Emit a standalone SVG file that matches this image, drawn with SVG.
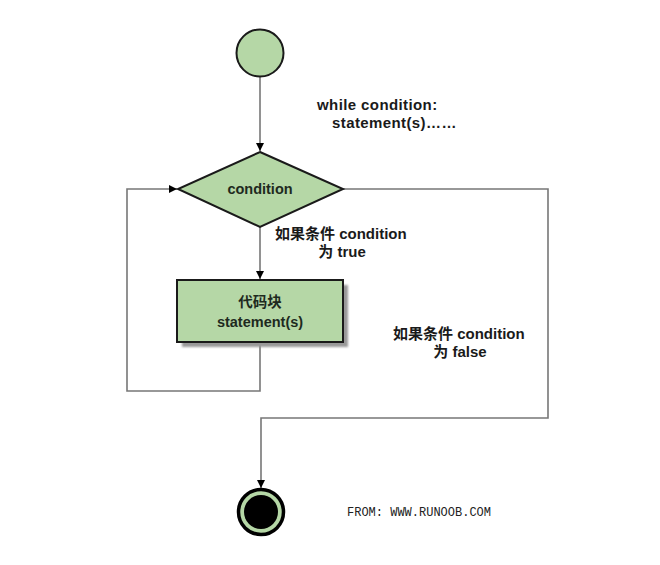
<svg xmlns="http://www.w3.org/2000/svg" width="660" height="565" viewBox="0 0 660 565">
<defs>
<marker id="arr" viewBox="0 0 10 10" refX="10" refY="5" markerWidth="8" markerHeight="8" markerUnits="userSpaceOnUse" orient="auto">
<path d="M0,0 L10,5 L0,10 z" fill="#000"/>
</marker>
<filter id="sh" x="-10%" y="-10%" width="130%" height="140%">
<feGaussianBlur stdDeviation="1.2"/>
</filter>
<style>
.edge{fill:none;stroke:#777;stroke-width:1.6}
.shape{fill:#b5d7a6;stroke:#1a1a1a;stroke-width:2}
.t{font-family:"Liberation Sans","Noto Sans CJK SC",sans-serif;font-weight:bold;font-size:15px;fill:#1a1a1a}
.c{text-anchor:middle}
.w{letter-spacing:0.4px}
.n{font-family:"Liberation Sans","Noto Sans CJK SC",sans-serif;font-weight:bold;font-size:14.5px;fill:#1e2a1e;text-anchor:middle}
.m{font-family:"Liberation Mono",monospace;font-size:12px;fill:#222}
</style>
</defs>
<rect width="660" height="565" fill="#fff"/>
<g id="connectors">
<path class="edge" d="M260,77 L260,151" marker-end="url(#arr)"/>
<path class="edge" d="M260,227 L260,279" marker-end="url(#arr)"/>
<path class="edge" d="M260,343 L260,391 L127,391 L127,189 L177,189" marker-end="url(#arr)"/>
<path class="edge" d="M343,189 L548,189 L548,418 L261,418 L261,488" marker-end="url(#arr)"/>
</g>
<g id="start">
<circle cx="260" cy="53" r="23.5" class="shape"/>
</g>
<g id="condition">
<polygon points="260,152 343,189 260,227 178,189" class="shape"/>
<text x="260" y="194" class="n">condition</text>
</g>
<g id="block">
<rect x="182" y="285" width="166" height="62" fill="#999" filter="url(#sh)"/>
<rect x="177" y="280" width="166" height="62" class="shape"/>
<text x="260" y="307" class="n">代码块</text>
<text x="260" y="327" class="n">statement(s)</text>
</g>
<g id="end">
<circle cx="261" cy="512" r="22.5" fill="#b5d7a6" stroke="#000" stroke-width="3.5"/>
<circle cx="261" cy="512" r="17" fill="#000"/>
</g>
<g id="labels">
<text x="317" y="110" class="t w">while condition:</text>
<text x="332" y="128" class="t w">statement(s)……</text>
<text x="275" y="239" class="t">如果条件 condition</text>
<text x="342" y="257" class="t c">为 true</text>
<text x="393" y="339" class="t">如果条件 condition</text>
<text x="460" y="357" class="t c">为 false</text>
<text x="347" y="516" class="m">FROM: WWW.RUNOOB.COM</text>
</g>
</svg>
